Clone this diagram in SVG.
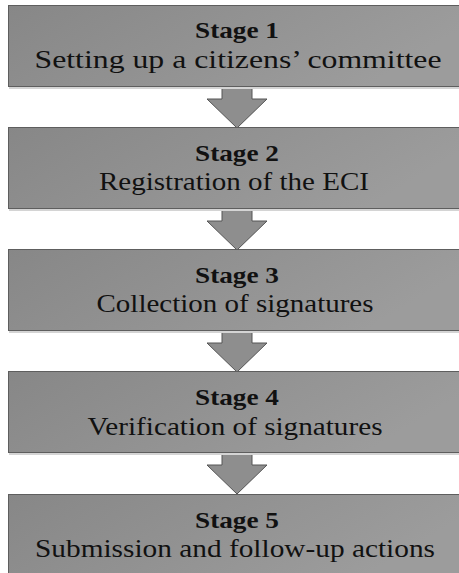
<svg xmlns="http://www.w3.org/2000/svg" width="459" height="573" viewBox="0 0 459 573">
  <defs>
    <linearGradient id="boxGrad" x1="0" y1="0" x2="1" y2="0.3">
      <stop offset="0" stop-color="#878787"/>
      <stop offset="1" stop-color="#9c9c9c"/>
    </linearGradient>
    <style>
      .box { fill: url(#boxGrad); stroke: #5e5e5e; stroke-width: 1; }
      .shadow { fill: #d4d4d4; }
      .arrow { fill: #8e8e8e; stroke: #555555; stroke-width: 1; stroke-linejoin: miter; }
      .title { font-family: "Liberation Serif", "DejaVu Serif", serif; font-weight: bold; font-size: 24px; fill: #111111; text-anchor: middle; }
      .sub { font-family: "Liberation Serif", "DejaVu Serif", serif; font-size: 26px; fill: #111111; text-anchor: middle; }
    </style>
  </defs>
  <rect width="459" height="573" fill="#ffffff"/>

  <g id="connectors">
    <path class="arrow" d="M222,86.5 L252,86.5 L252,99 L267,99 L237,128 L207,99 L222,99 Z"/>
    <path class="arrow" d="M222,208.5 L252,208.5 L252,221 L267,221 L237,250 L207,221 L222,221 Z"/>
    <path class="arrow" d="M222,330.5 L252,330.5 L252,343 L267,343 L237,372 L207,343 L222,343 Z"/>
    <path class="arrow" d="M222,452.5 L252,452.5 L252,465 L267,465 L237,494 L207,465 L222,465 Z"/>
  </g>

  <g id="stage1">
    <rect class="shadow" x="9" y="87" width="452" height="2"/>
    <rect class="box" x="8.5" y="5.5" width="452" height="81"/>
    <text class="title" x="237" y="38" textLength="84" lengthAdjust="spacingAndGlyphs">Stage 1</text>
    <text class="sub" x="238" y="68" textLength="407" lengthAdjust="spacingAndGlyphs">Setting up a citizens’ committee</text>
  </g>
  <g id="stage2">
    <rect class="shadow" x="9" y="209" width="452" height="2"/>
    <rect class="box" x="8.5" y="127.5" width="452" height="81"/>
    <text class="title" x="237" y="161" textLength="84" lengthAdjust="spacingAndGlyphs">Stage 2</text>
    <text class="sub" x="234" y="190" textLength="270" lengthAdjust="spacingAndGlyphs">Registration of the ECI</text>
  </g>
  <g id="stage3">
    <rect class="shadow" x="9" y="331" width="452" height="2"/>
    <rect class="box" x="8.5" y="249.5" width="452" height="81"/>
    <text class="title" x="237" y="283" textLength="84" lengthAdjust="spacingAndGlyphs">Stage 3</text>
    <text class="sub" x="235" y="312" textLength="277" lengthAdjust="spacingAndGlyphs">Collection of signatures</text>
  </g>
  <g id="stage4">
    <rect class="shadow" x="9" y="453" width="452" height="2"/>
    <rect class="box" x="8.5" y="371.5" width="452" height="81"/>
    <text class="title" x="237" y="405" textLength="84" lengthAdjust="spacingAndGlyphs">Stage 4</text>
    <text class="sub" x="235" y="435" textLength="295" lengthAdjust="spacingAndGlyphs">Verification of signatures</text>
  </g>
  <g id="stage5">
    <rect class="box" x="8.5" y="494.5" width="452" height="81"/>
    <text class="title" x="237" y="528" textLength="84" lengthAdjust="spacingAndGlyphs">Stage 5</text>
    <text class="sub" x="235" y="557" textLength="400" lengthAdjust="spacingAndGlyphs">Submission and follow-up actions</text>
  </g>
</svg>
